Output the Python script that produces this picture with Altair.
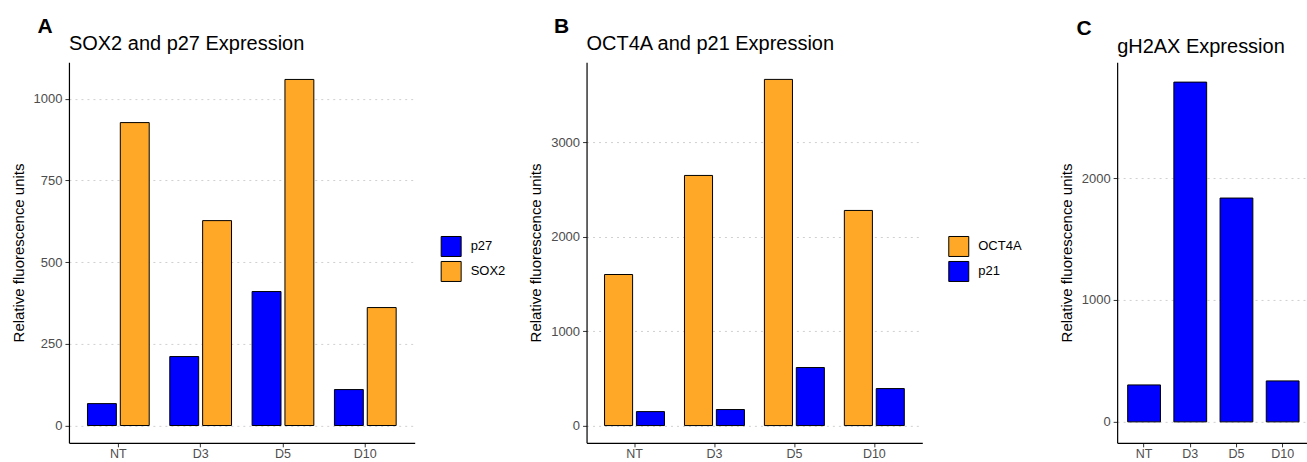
import altair as alt
import pandas as pd

FONT = "Liberation Sans"

days = ["NT", "D3", "D5", "D10"]

# Panel A
p27 = [67, 211, 410, 110]
sox2 = [927, 627, 1059, 361]
# Panel B
oct4a = [1601, 2651, 3669, 2280]
p21 = [148, 170, 615, 392]
# Panel C
gh2ax = [303, 2787, 1836, 336]

BLUE = "#0000FF"
ORANGE = "#FFA726"


def long_df(series):
    rows = []
    for name, vals in series:
        for d, v in zip(days, vals):
            rows.append({"day": d, "gene": name, "value": v})
    return pd.DataFrame(rows)


def panel(df, genes, colors, ydom, yticks, width, height, title, letter,
          letter_dx, letter_dy, title_dy, show_legend, legend_x, legend_y,
          pad_inner, pad_outer, band_align=0.5):
    x_enc = alt.X("day:N", sort=days, title=None,
                  scale=alt.Scale(paddingInner=pad_inner, paddingOuter=pad_outer,
                                  align=band_align),
                  axis=alt.Axis(labelAngle=0, labelColor="#4D4D4D", labelFontSize=12.5,
                                labelFont=FONT, domainColor="#000000", domainWidth=1.2,
                                tickColor="#333333", tickSize=4, labelPadding=1, grid=False))
    if show_legend:
        legend = alt.Legend(title=None, orient="none", legendX=legend_x, legendY=legend_y,
                            symbolType="square", symbolSize=400, symbolStrokeColor="#000000",
                            symbolStrokeWidth=1, symbolOpacity=1, labelFontSize=13,
                            labelFont=FONT, labelColor="#000000", labelOffset=9,
                            rowPadding=0, padding=0)
    else:
        legend = None
    enc = dict(
        x=x_enc,
        y=alt.Y("value:Q", title="Relative fluorescence units",
                scale=alt.Scale(domain=ydom, nice=False, zero=False),
                axis=alt.Axis(values=yticks, format="d", labelColor="#4D4D4D", labelFontSize=13,
                              labelFont=FONT, titleFont=FONT, titleFontSize=15,
                              titleFontWeight="normal", titleColor="#000000",
                              domainColor="#000000", domainWidth=1.2, tickColor="#333333",
                              tickSize=4, labelPadding=3, grid=True, gridColor="#D0D0D0",
                              gridDash=[2, 4], gridWidth=1, titlePadding=7)),
        y2=alt.datum(0),
        color=alt.Color("gene:N", scale=alt.Scale(domain=genes, range=colors), legend=legend),
    )
    if len(genes) > 1:
        enc["xOffset"] = alt.XOffset("gene:N", sort=genes,
                                     scale=alt.Scale(paddingInner=0.12, paddingOuter=0))
    bars = alt.Chart(df).mark_bar(
        stroke="#000000", strokeWidth=1, opacity=1
    ).encode(**enc)
    txt = pd.DataFrame({"t": [letter], "title": [title]})
    lab = alt.Chart(txt).mark_text(
        font=FONT, fontSize=21, fontWeight="bold", color="#000000",
        align="center", baseline="alphabetic"
    ).encode(x=alt.value(letter_dx), y=alt.value(letter_dy), text="t:N")
    ttl = alt.Chart(txt).mark_text(
        font=FONT, fontSize=20, color="#000000", align="left", baseline="alphabetic"
    ).encode(x=alt.value(0), y=alt.value(title_dy), text="title:N")
    return alt.layer(bars, lab, ttl).properties(
        width=width, height=height,
        view=alt.ViewBackground(stroke="transparent", strokeWidth=0),
    ).resolve_scale(color="independent")


dfA = long_df([("p27", p27), ("SOX2", sox2)])
dfB = long_df([("OCT4A", oct4a), ("p21", p21)])
dfC = long_df([("gH2AX", gh2ax)])

A = panel(dfA, ["p27", "SOX2"], [BLUE, ORANGE], [-53, 1112], [0, 250, 500, 750, 1000],
          346, 381, "SOX2 and p27 Expression", "A", -24, -29, -12, True, 372, 174, 0.25, 0.225)
B = panel(dfB, ["OCT4A", "p21"], [ORANGE, BLUE], [-183, 3852], [0, 1000, 2000, 3000],
          336, 381, "OCT4A and p21 Expression", "B", -25, -29, -12, True, 362, 174, 0.25, 0.225)
C = panel(dfC, ["gH2AX"], [BLUE], [-172, 2951], [0, 1000, 2000],
          190, 381, "gH2AX Expression", "C", -33, -27, -9, False, 0, 0, 0.29, 0.2, 0.57)

RES = dict(color="independent", x="independent", y="independent", xOffset="independent")

chart = alt.hconcat(
    alt.hconcat(A, B, spacing=23).resolve_scale(**RES),
    C, spacing=37,
).resolve_scale(**RES).properties(
    padding={"left": 11, "top": 16, "right": 0, "bottom": 0},
    background="#FFFFFF",
).configure_view(stroke="transparent", strokeWidth=0)

chart.save("out.html", embed_options={"renderer": "svg", "actions": False})
